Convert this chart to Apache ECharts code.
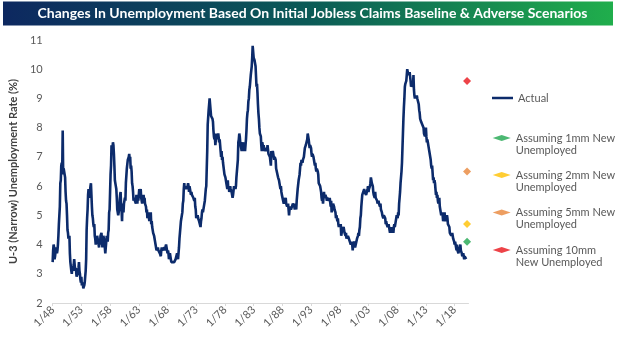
<!DOCTYPE html>
<html><head><meta charset="utf-8">
<script src="https://cdn.jsdelivr.net/npm/echarts@6/dist/echarts.min.js"></script>
<style>html,body{margin:0;padding:0;background:#fff}#c{width:625px;height:338px}</style>
</head><body><div id="c"></div>
<script>
// ---- DATA ----
const titleText = 'Changes In Unemployment Based On Initial Jobless Claims Baseline & Adverse Scenarios';
const yAxisTitle = 'U-3 (Narrow) Unemployment Rate (%)';
const startYear = 1948;          // first month = 1/48
const trailingMonths = 4;        // empty months on the axis after the last reading
const labelEveryMonths = 60;     // x tick labels 1/48, 1/53, ...
const yTicks = [2, 3, 4, 5, 6, 7, 8, 9, 10, 11];

// monthly U-3 rate, Jan 1948 .. Feb 2020 (one row per year)
const actualRate = [
3.4,3.8,4.0,3.9,3.5,3.6,3.6,3.9,3.8,3.7,3.8,4.0,
4.3,4.7,5.0,5.3,6.1,6.2,6.7,6.8,6.6,7.9,6.4,6.6,
6.5,6.4,6.3,5.8,5.5,5.4,5.0,4.5,4.4,4.2,4.2,4.3,
3.7,3.4,3.4,3.1,3.0,3.2,3.1,3.1,3.3,3.5,3.5,3.1,
3.2,3.1,2.9,2.9,3.0,3.0,3.2,3.4,3.1,3.0,2.8,2.7,
2.9,2.6,2.6,2.7,2.5,2.5,2.6,2.7,2.9,3.1,3.5,4.5,
4.9,5.2,5.7,5.9,5.9,5.6,5.8,6.0,6.1,5.7,5.3,5.0,
4.9,4.7,4.6,4.7,4.3,4.2,4.0,4.2,4.1,4.3,4.2,4.2,
4.0,3.9,4.2,4.0,4.3,4.3,4.4,4.1,3.9,3.9,4.3,4.2,
4.2,3.9,3.7,3.9,4.1,4.3,4.2,4.1,4.4,4.5,5.1,5.2,
5.8,6.4,6.7,7.4,7.4,7.3,7.5,7.4,7.1,6.7,6.2,6.2,
6.0,5.9,5.6,5.2,5.1,5.0,5.1,5.2,5.5,5.7,5.8,5.3,
5.2,4.8,5.4,5.2,5.1,5.4,5.5,5.6,5.5,6.1,6.1,6.6,
6.6,6.9,6.9,7.0,7.1,6.9,7.0,6.6,6.7,6.5,6.1,6.0,
5.8,5.5,5.6,5.6,5.5,5.5,5.4,5.7,5.6,5.4,5.7,5.5,
5.7,5.9,5.7,5.7,5.9,5.6,5.6,5.4,5.5,5.5,5.7,5.5,
5.6,5.4,5.4,5.3,5.1,5.2,4.9,5.0,5.1,5.1,4.8,5.0,
4.9,5.1,4.7,4.8,4.6,4.6,4.4,4.4,4.3,4.2,4.1,4.0,
4.0,3.8,3.8,3.8,3.9,3.8,3.8,3.8,3.7,3.7,3.6,3.8,
3.9,3.8,3.8,3.8,3.8,3.9,3.8,3.8,3.8,4.0,3.9,3.8,
3.7,3.8,3.7,3.5,3.5,3.7,3.7,3.5,3.4,3.4,3.4,3.4,
3.4,3.4,3.4,3.4,3.4,3.5,3.5,3.5,3.7,3.7,3.5,3.5,
3.9,4.2,4.4,4.6,4.8,4.9,5.0,5.1,5.4,5.5,5.9,6.1,
5.9,5.9,6.0,5.9,5.9,5.9,6.0,6.1,6.0,5.8,6.0,6.0,
5.8,5.7,5.8,5.7,5.7,5.7,5.6,5.6,5.5,5.6,5.3,5.2,
4.9,5.0,4.9,5.0,4.9,4.9,4.8,4.8,4.8,4.6,4.8,4.9,
5.1,5.2,5.1,5.1,5.1,5.4,5.5,5.5,5.9,6.0,6.6,7.2,
8.1,8.1,8.6,8.8,9.0,8.8,8.6,8.4,8.4,8.4,8.3,8.2,
7.9,7.7,7.6,7.7,7.4,7.6,7.8,7.8,7.6,7.7,7.8,7.8,
7.5,7.6,7.4,7.2,7.0,7.2,6.9,7.0,6.8,6.8,6.8,6.4,
6.4,6.3,6.3,6.1,6.0,5.9,6.2,5.9,6.0,5.8,5.9,6.0,
5.9,5.9,5.8,5.8,5.6,5.7,5.7,6.0,5.9,6.0,5.9,6.0,
6.3,6.3,6.3,6.9,7.5,7.6,7.8,7.7,7.5,7.5,7.5,7.2,
7.5,7.4,7.4,7.2,7.5,7.5,7.2,7.4,7.6,7.9,8.3,8.5,
8.6,8.9,9.0,9.3,9.4,9.6,9.8,9.8,10.1,10.4,10.8,10.8,
10.4,10.4,10.3,10.2,10.1,10.1,9.4,9.5,9.2,8.8,8.5,8.3,
8.0,7.8,7.8,7.7,7.4,7.2,7.5,7.5,7.3,7.4,7.2,7.3,
7.3,7.2,7.2,7.3,7.2,7.4,7.4,7.1,7.1,7.1,7.0,7.0,
6.7,7.2,7.2,7.1,7.2,7.2,7.0,6.9,7.0,7.0,6.9,6.6,
6.6,6.6,6.6,6.3,6.3,6.2,6.1,6.0,5.9,6.0,5.8,5.7,
5.7,5.7,5.7,5.4,5.6,5.4,5.4,5.6,5.4,5.4,5.3,5.3,
5.4,5.2,5.0,5.2,5.2,5.3,5.2,5.2,5.3,5.3,5.4,5.4,
5.4,5.3,5.2,5.4,5.4,5.2,5.5,5.7,5.9,5.9,6.2,6.3,
6.4,6.6,6.8,6.7,6.9,6.9,6.8,6.9,6.9,7.0,7.0,7.3,
7.3,7.4,7.4,7.4,7.6,7.8,7.7,7.6,7.6,7.3,7.4,7.4,
7.3,7.1,7.0,7.1,7.1,7.0,6.9,6.8,6.7,6.8,6.6,6.5,
6.6,6.6,6.5,6.4,6.1,6.1,6.1,6.0,5.9,5.8,5.6,5.5,
5.6,5.4,5.4,5.8,5.6,5.6,5.7,5.7,5.6,5.5,5.6,5.6,
5.6,5.5,5.5,5.6,5.6,5.3,5.5,5.1,5.2,5.2,5.4,5.4,
5.3,5.2,5.2,5.1,4.9,5.0,4.9,4.8,4.9,4.7,4.6,4.7,
4.6,4.6,4.7,4.3,4.4,4.5,4.5,4.5,4.6,4.5,4.4,4.4,
4.3,4.4,4.2,4.3,4.2,4.3,4.3,4.2,4.2,4.1,4.1,4.0,
4.0,4.1,4.0,3.8,4.0,4.0,4.0,4.1,3.9,3.9,3.9,3.9,
4.2,4.2,4.3,4.4,4.3,4.5,4.6,4.9,5.0,5.3,5.5,5.7,
5.7,5.7,5.7,5.9,5.8,5.8,5.8,5.7,5.7,5.7,5.9,6.0,
5.8,5.9,5.9,6.0,6.1,6.3,6.2,6.1,6.1,6.0,5.8,5.7,
5.7,5.6,5.8,5.6,5.6,5.6,5.5,5.4,5.4,5.5,5.4,5.4,
5.3,5.4,5.2,5.2,5.1,5.0,5.0,4.9,5.0,5.0,5.0,4.9,
4.7,4.8,4.7,4.7,4.6,4.6,4.7,4.7,4.5,4.4,4.5,4.4,
4.6,4.5,4.4,4.5,4.4,4.6,4.7,4.6,4.7,4.7,4.7,5.0,
5.0,4.9,5.1,5.0,5.4,5.6,5.8,6.1,6.1,6.5,6.8,7.3,
7.8,8.3,8.7,9.0,9.4,9.5,9.5,9.6,9.8,10.0,9.9,9.9,
9.8,9.8,9.9,9.9,9.6,9.4,9.4,9.5,9.5,9.4,9.8,9.3,
9.1,9.0,9.0,9.1,9.0,9.1,9.0,9.0,9.0,8.8,8.6,8.5,
8.3,8.3,8.2,8.2,8.2,8.2,8.2,8.0,7.8,7.8,7.7,7.9,
8.0,7.7,7.5,7.6,7.5,7.5,7.3,7.2,7.2,7.2,6.9,6.7,
6.6,6.7,6.7,6.2,6.3,6.1,6.2,6.1,5.9,5.7,5.8,5.6,
5.7,5.5,5.4,5.4,5.6,5.3,5.2,5.1,5.0,5.0,5.1,5.0,
4.8,4.9,5.0,5.1,4.8,4.9,4.8,4.9,5.0,4.9,4.7,4.7,
4.7,4.6,4.4,4.4,4.4,4.3,4.3,4.4,4.3,4.2,4.2,4.1,
4.0,4.1,4.0,4.0,3.8,4.0,3.8,3.8,3.7,3.8,3.8,3.9,
4.0,3.8,3.8,3.7,3.6,3.6,3.7,3.6,3.5,3.6,3.6,3.6,
3.5,3.5
];

const actualName = 'Actual';
const scenarioNames = [
  'Assuming 1mm New\nUnemployed',
  'Assuming 2mm New\nUnemployed',
  'Assuming 5mm New\nUnemployed',
  'Assuming 10mm\nNew Unemployed'
];
const scenarioValues = [4.1, 4.7, 6.5, 9.6];
const scenarioMonth = '3/20';

// ---- STYLE ----
const scenarioColors = ['#1fa64f', '#ffc000', '#e8863a', '#e8141a'];
const lineColor = '#0c2b6b';
const labelColor = '#595959';
const fontFam = 'Lato, "Open Sans", sans-serif';

// ---- BUILD ----
const totalMonths = actualRate.length + trailingMonths;
const categories = [];
for (let i = 0; i < totalMonths; i++) {
  const y = startYear + Math.floor(i / 12);
  const m = (i % 12) + 1;
  categories.push(m + '/' + String(y % 100).padStart(2, '0'));
}

const chart = echarts.init(document.getElementById('c'), null, {renderer: 'canvas'});

// icon centre y for each scenario legend item (text block of 3 lines x 12px, first blank)
const legendCentres = [138, 175, 212.5, 250];
const legends = [{
  data: [actualName], left: 492, top: 92.5, padding: 0,
  icon: 'rect', itemWidth: 21, itemHeight: 2.5,
  textStyle: {color: labelColor, fontSize: 11, fontFamily: fontFam},
  selectedMode: false
}];
scenarioNames.forEach((n, i) => {
  legends.push({
    data: [n], left: 492.7, top: legendCentres[i] - 18, padding: 0,
    icon: 'diamond', itemWidth: 18, itemHeight: 6, symbolKeepAspect: true,
    formatter: name => '\n' + name,
    textStyle: {color: labelColor, fontSize: 11, fontFamily: fontFam, lineHeight: 12},
    selectedMode: false
  });
});

const series = [{
  name: actualName, type: 'line', data: actualRate,
  showSymbol: false, symbol: 'none',
  lineStyle: {color: lineColor, width: 2.6}, itemStyle: {color: lineColor},
  z: 2
}];
scenarioNames.forEach((n, i) => {
  series.push({
    name: n, type: 'scatter', symbol: 'diamond', symbolSize: 8,
    itemStyle: {color: scenarioColors[i]},
    data: [[scenarioMonth, scenarioValues[i]]], z: 3
  });
});

chart.setOption({
  animation: false,
  backgroundColor: '#ffffff',
  graphic: [{
    type: 'rect', shape: {x: 3, y: 1.5, width: 610, height: 24}, z: -1,
    style: {fill: new echarts.graphic.LinearGradient(0, 0, 1, 0, [
      {offset: 0, color: '#0d2860'},
      {offset: 0.5, color: '#0b5a57'},
      {offset: 1, color: '#20ae4c'}
    ])}
  }],
  title: {
    text: titleText, left: 'center', top: 6, padding: 0,
    textStyle: {color: '#ffffff', fontSize: 14, fontWeight: 'bold', fontFamily: fontFam}
  },
  legend: legends,
  grid: {left: 44, right: 156.5, top: 40, bottom: 35, containLabel: false},
  xAxis: {
    type: 'category', data: categories, boundaryGap: false,
    axisLine: {lineStyle: {color: '#d9d9d9', width: 1}},
    axisTick: {show: true, interval: labelEveryMonths - 1, length: 3, lineStyle: {color: '#d9d9d9'}},
    axisLabel: {interval: labelEveryMonths - 1, rotate: 45, margin: 5, color: labelColor, fontSize: 11, fontFamily: fontFam},
    splitLine: {show: false}
  },
  yAxis: {
    type: 'value', min: yTicks[0], max: yTicks[yTicks.length - 1], interval: 1,
    name: yAxisTitle, nameLocation: 'middle', nameGap: 30,
    nameTextStyle: {color: '#404040', fontSize: 11, fontWeight: 'bold', fontFamily: fontFam},
    axisLine: {show: false}, axisTick: {show: false},
    axisLabel: {margin: 10, color: labelColor, fontSize: 11, fontFamily: fontFam},
    splitLine: {show: false}
  },
  series: series
});
</script></body></html>
